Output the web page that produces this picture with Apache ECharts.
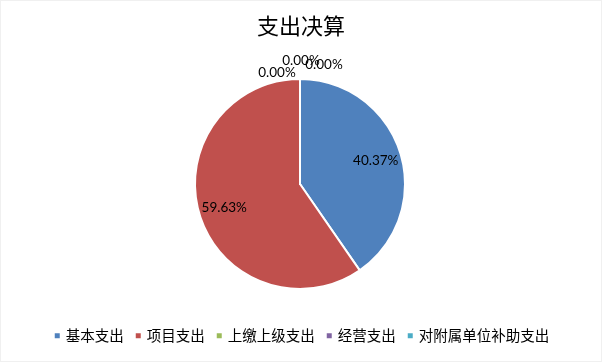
<!DOCTYPE html>
<html>
<head>
<meta charset="utf-8">
<script src="https://cdn.jsdelivr.net/npm/echarts@6/dist/echarts.min.js"></script>
<style>
html,body{margin:0;padding:0;background:#fff;}
#c{width:600px;height:360px;border:1px solid #f0f0f0;}
</style>
</head>
<body>
<div id="c"></div>
<script>
const titleText = '支出决算';
const categories = ['基本支出', '项目支出', '上缴上级支出', '经营支出', '对附属单位补助支出'];
const values = [40.37, 59.63, 0, 0, 0];
const colors = ['#4F81BD', '#C0504D', '#9BBB59', '#8064A2', '#4BACC6'];
// label anchor points for the zero-value slices (label placement only)
const zeroLabelPos = {2: [276, 72], 3: [300, 60], 4: [323, 64]};

const CX = 299, CY = 183, R = 105;
const chart = echarts.init(document.getElementById('c'), null, {renderer: 'canvas'});
chart.setOption({
  animation: false,
  backgroundColor: '#fff',
  color: colors,
  title: {
    text: titleText, left: 'center', top: 9,
    textStyle: {fontFamily: 'Noto Sans CJK SC', fontSize: 22, fontWeight: 'normal', color: '#000'}
  },
  legend: {
    data: categories, bottom: 13, left: 'center',
    icon: 'rect', itemWidth: 7, itemHeight: 7, itemGap: 10,
    textStyle: {fontFamily: 'Noto Sans CJK SC', fontSize: 14.5, color: '#000'},
    selectedMode: false
  },
  series: [{
    type: 'pie',
    center: [CX, CY],
    radius: R,
    startAngle: 90,
    clockwise: true,
    silent: true,
    itemStyle: {borderColor: '#fff', borderWidth: 2},
    label: {
      show: true, position: 'inside',
      formatter: p => p.value.toFixed(2) + '%',
      fontFamily: 'Lato', fontSize: 13.5, color: '#000'
    },
    labelLine: {show: false},
    labelLayout: function (params) {
      const i = params.dataIndex;
      if (zeroLabelPos[i]) {
        return {x: zeroLabelPos[i][0], y: zeroLabelPos[i][1], align: 'center', verticalAlign: 'middle'};
      }
      const r = params.labelRect;
      const lx = r.x + r.width / 2, ly = r.y + r.height / 2;
      const k = 1.43;
      return {x: CX + (lx - CX) * k, y: CY + (ly - CY) * k, align: 'center', verticalAlign: 'middle'};
    },
    data: categories.map((n, i) => ({name: n, value: values[i]}))
  }]
});
</script>
</body>
</html>
